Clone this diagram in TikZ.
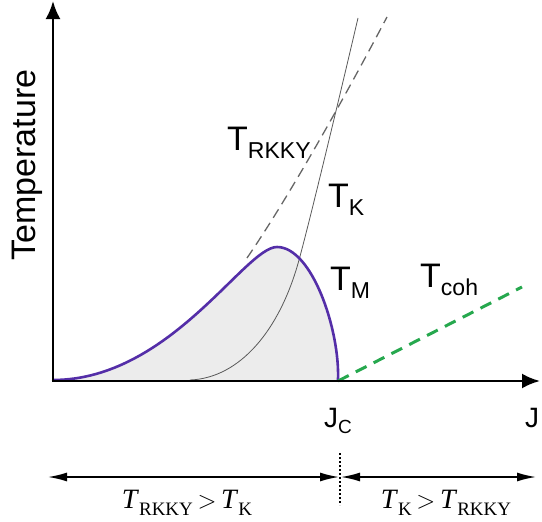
\documentclass[tikz,border=0pt]{standalone}
\usepackage{fontspec}
\setmainfont{Liberation Sans}
\newfontfamily\rangefont{Liberation Serif}
\usetikzlibrary{arrows.meta}
\definecolor{tmpurple}{RGB}{84,46,168}
\definecolor{cohgreen}{RGB}{38,168,78}
\definecolor{phasegray}{RGB}{236,236,236}
\tikzset{
  axisarr/.style  = {-{Latex[length=18pt,width=15pt]},line width=2.6pt},
  rangearr/.style = {{Latex[length=19pt,width=9pt]}-{Latex[length=19pt,width=9pt]},line width=1.6pt},
  biglbl/.style   = {font=\fontsize{34}{36}\selectfont,inner sep=0pt,anchor=base west},
  rangelbl/.style = {font=\rangefont\fontsize{28}{30}\selectfont,inner sep=0pt,anchor=base}
}
% letter with a lowered subscript, as in the figure
\newcommand{\tsub}[2]{#1\raisebox{-8pt}{\fontsize{23}{23}\selectfont #2}}
\newcommand{\rsub}[2]{\textit{#1}\raisebox{-7pt}{\fontsize{19}{19}\selectfont #2}}
\newcommand{\tmpath}{(53,380) .. controls (170,380) and (245,247) .. (277,247)
  .. controls (312,247) and (340,330) .. (338,380)}

\begin{document}
\begin{tikzpicture}[x=1pt,y=-1pt]
  \useasboundingbox (0,0) rectangle (542,522);
  \coordinate (O)  at (53,381);
  \coordinate (Jc) at (338,381);
  % ordered phase
  \fill[phasegray] \tmpath -- cycle;
  % Kondo temperature
  \draw[gray!70!black,line width=0.8pt] (190,380) .. controls (240,378) and (280,330) .. (299,260)
    .. controls (310,220) and (340,95) .. (358,18);
  % RKKY temperature
  \draw[gray!80!black,line width=1.3pt,dash pattern=on 10pt off 6pt]
    (247,258) .. controls (280,210) and (330,125) .. (387,17);
  % magnetic ordering
  \draw[tmpurple,line width=2.6pt] \tmpath;
  \coordinate (cohend) at (522,287);
  \draw[cohgreen,line width=3pt,dash pattern=on 12pt off 8pt] (Jc) -- (cohend);
  % axes
  \coordinate (ytop) at (53,1);
  \coordinate (xend) at (540,381);
  \draw[axisarr] (O) -- (ytop);
  \draw[axisarr] ([xshift=-1.3pt]O) -- (xend);
  \node[font=\fontsize{34}{36}\selectfont,rotate=90,anchor=base,inner sep=0pt] (temp) at (35,165) {Temperature};
  \node[biglbl] (rkkylbl) at (227,150) {\tsub{T}{RKKY}};
  \node[biglbl] (kondolbl) at (328,207) {\tsub{T}{K}};
  \node[biglbl] (mlbl) at (330,290) {\tsub{T}{M}};
  \node[biglbl] (cohlbl) at (420,287) {\tsub{T}{coh}};
  \node[font=\fontsize{28}{30}\selectfont,inner sep=0pt,anchor=base west] (jclbl) at (324,427)
    {J\raisebox{-6pt}{\fontsize{19}{19}\selectfont C}};
  \node[font=\fontsize{28}{30}\selectfont,inner sep=0pt,anchor=base west] (jlbl) at (525,427) {J};
  % regimes
  \coordinate (rleft)  at (48,477);
  \coordinate (rmid)   at (340,477);
  \coordinate (rright) at (536,477);
  \coordinate (dtop) at (340,453);
  \coordinate (dbot) at (340,505);
  \draw[rangearr] (rleft) -- ([xshift=-1pt]rmid);
  \draw[rangearr] ([xshift=1pt]rmid) -- (rright);
  \draw[line width=1.4pt,dash pattern=on 2pt off 2pt] (dtop) -- (dbot);
  \node[rangelbl] (leftlbl) at (187,508) {\rsub{T}{RKKY}\,{\fontsize{28}{30}\selectfont$>$}\,\rsub{T}{K}};
  \node[rangelbl] (rightlbl) at (446,508) {\rsub{T}{K}\,{\fontsize{28}{30}\selectfont$>$}\,\rsub{T}{RKKY}};
\end{tikzpicture}
\end{document}
